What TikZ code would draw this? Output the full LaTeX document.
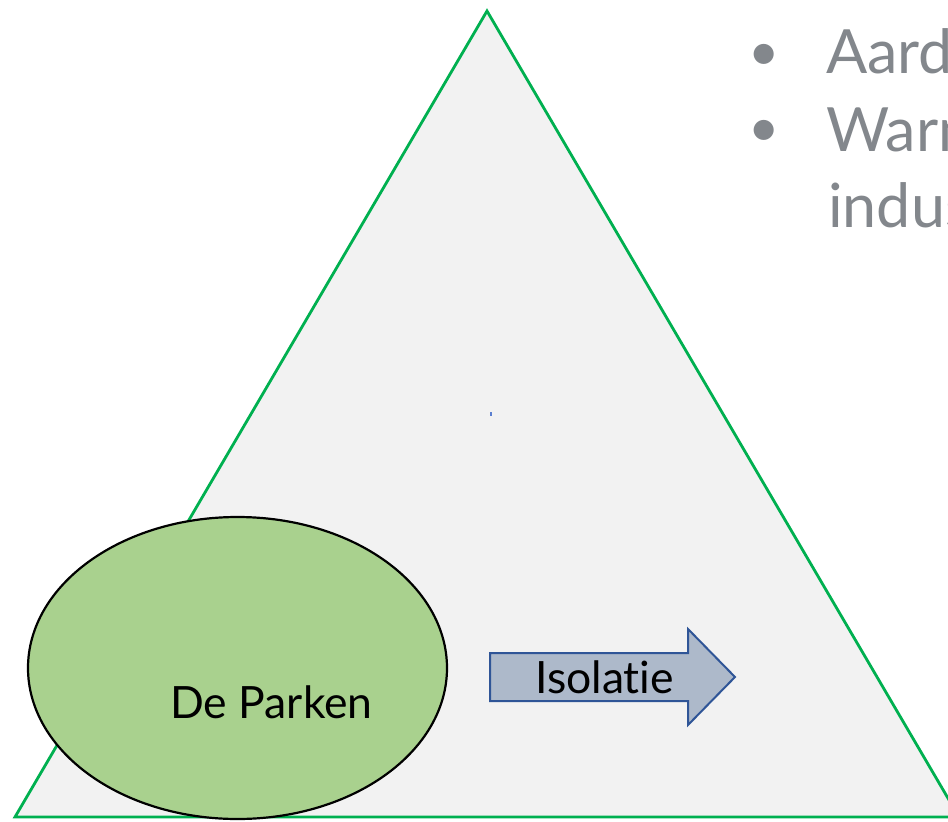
\documentclass[tikz,border=0pt]{standalone}
\usepackage{fontspec}
\setmainfont{Lato}[Ligatures={NoCommon,NoDiscretionary,NoRare}]
\usetikzlibrary{shapes.geometric}
\definecolor{trifill}{HTML}{F2F2F2}
\definecolor{trigreen}{HTML}{00B050}
\definecolor{parkgreen}{HTML}{A9D18E}
\definecolor{arrowfill}{HTML}{ADB9CA}
\definecolor{arrowblue}{HTML}{2F5597}
\definecolor{bulletgray}{HTML}{83878C}
\definecolor{cursorblue}{HTML}{5B7FD0}
\tikzset{
  tri/.style={draw=trigreen, fill=trifill, line width=2.8pt, line join=miter},
  parkshape/.style={ellipse, draw=black, fill=parkgreen, line width=2.2pt, minimum width=419pt, minimum height=302pt, inner sep=0pt},
  bigtext/.style={font=\fontsize{44.5}{53}\selectfont, inner sep=0pt, text=black},
  arrowshape/.style={draw=arrowblue, fill=arrowfill, line width=2pt, line join=miter},
  listtext/.style={font=\fontsize{61}{73}\selectfont, inner sep=0pt, text=bulletgray, anchor=base west},
  bulletmark/.style={font=\fontsize{54}{65}\selectfont, inner sep=0pt, text=bulletgray, anchor=north}
}
\begin{document}
\begin{tikzpicture}[x=1pt,y=-1pt]
\useasboundingbox (0,0) rectangle (948,822);
\clip (0,0) rectangle (948,822);
\fill[white] (0,0) rectangle (948,822);
% triangle
\coordinate (apex) at (487,11);
\coordinate (bl) at (15,817);
\coordinate (br) at (959,817);
\draw[tri] (apex) -- (bl) -- (br) -- cycle;
% tiny cursor mark
\fill[cursorblue] (489.5,412) rectangle (491.5,416);
% ellipse
\node[parkshape] (parken) at (237.5,668) {};
\node[bigtext, anchor=base west] (parkentext) at (170,718) {De Parken};
% arrow
\coordinate (a1) at (490,653);
\coordinate (a2) at (688,653);
\coordinate (a3) at (688,629);
\coordinate (tip) at (735,677);
\coordinate (a5) at (688,725);
\coordinate (a6) at (688,701);
\coordinate (a7) at (490,701);
\draw[arrowshape] (a1) -- (a2) -- (a3) -- (tip) -- (a5) -- (a6) -- (a7) -- cycle;
\node[bigtext, anchor=base west] (isolatie) at (535,693) {Isolatie};
% list
\node[bulletmark] (b1) at (764,44) {•};
\node[listtext] (l1) at (826,73) {Aard};
\node[bulletmark] (b2) at (764,120) {•};
\node[listtext] (l2) at (826,151) {Warm};
\node[listtext] (l3) at (828,227) {indus};
\end{tikzpicture}
\end{document}
